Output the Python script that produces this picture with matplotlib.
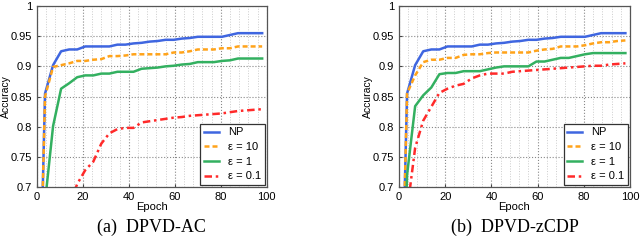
import matplotlib
matplotlib.use("Agg")
import matplotlib.pyplot as plt
from matplotlib.ticker import MultipleLocator, FuncFormatter

epochs = [0, 3.5, 7, 10.5, 14, 17.5, 21, 24.5, 28, 31.5, 35, 38.5, 42, 45.5, 49,
          52.5, 56, 59.5, 63, 66.5, 70, 73.5, 77, 80.5, 84, 87.5, 91, 94.5, 98]

np_a = [0.30, 0.855, 0.902, 0.925, 0.928, 0.928, 0.933, 0.933, 0.933, 0.933, 0.936, 0.936,
        0.938, 0.939, 0.941, 0.942, 0.944, 0.944, 0.946, 0.947, 0.949, 0.949, 0.949, 0.949,
        0.952, 0.955, 0.955, 0.955, 0.955]
e10_a = [0.30, 0.85, 0.899, 0.902, 0.905, 0.909, 0.909, 0.911, 0.912, 0.917, 0.917, 0.918,
         0.920, 0.920, 0.920, 0.920, 0.920, 0.923, 0.923, 0.925, 0.928, 0.928, 0.928, 0.930,
         0.930, 0.933, 0.933, 0.933, 0.933]
e1_a = [0.30, 0.675, 0.801, 0.863, 0.872, 0.882, 0.885, 0.885, 0.888, 0.888, 0.891, 0.891,
        0.891, 0.896, 0.897, 0.898, 0.900, 0.901, 0.903, 0.904, 0.907, 0.907, 0.907, 0.909,
        0.910, 0.913, 0.913, 0.913, 0.913]
e01_a = [0.30, 0.45, 0.55, 0.62, 0.67, 0.705, 0.728, 0.742, 0.772, 0.789, 0.796, 0.798,
         0.798, 0.807, 0.809, 0.811, 0.813, 0.815, 0.816, 0.818, 0.819, 0.820, 0.821, 0.822,
         0.824, 0.826, 0.827, 0.828, 0.829]

np_b = [0.30, 0.855, 0.902, 0.925, 0.928, 0.928, 0.933, 0.933, 0.933, 0.933, 0.936, 0.936,
        0.938, 0.939, 0.941, 0.942, 0.944, 0.944, 0.946, 0.947, 0.949, 0.949, 0.949, 0.949,
        0.952, 0.955, 0.955, 0.955, 0.955]
e10_b = [0.30, 0.855, 0.885, 0.907, 0.911, 0.911, 0.914, 0.914, 0.919, 0.920, 0.920, 0.922,
         0.923, 0.923, 0.923, 0.923, 0.923, 0.926, 0.928, 0.929, 0.933, 0.933, 0.933, 0.935,
         0.938, 0.940, 0.940, 0.942, 0.943]
e1_b = [0.30, 0.72, 0.834, 0.852, 0.865, 0.887, 0.889, 0.889, 0.892, 0.892, 0.892, 0.895,
        0.898, 0.900, 0.900, 0.900, 0.900, 0.908, 0.908, 0.911, 0.914, 0.914, 0.917, 0.920,
        0.922, 0.922, 0.922, 0.922, 0.922]
e01_b = [0.30, 0.66, 0.765, 0.810, 0.833, 0.856, 0.863, 0.868, 0.871, 0.880, 0.885, 0.888,
         0.888, 0.888, 0.891, 0.892, 0.893, 0.894, 0.895, 0.896, 0.897, 0.898, 0.899, 0.900,
         0.901, 0.901, 0.903, 0.904, 0.905]

labels = ["NP", "ε = 10", "ε = 1", "ε = 0.1"]
captions = ["(a)  DPVD-AC", "(b)  DPVD-zCDP"]
colors = ["#3f66e0", "#ffa31a", "#33b060", "#ff2a2a"]
styles = ["-", (0, (2, 1.2)), "-", (0, (3, 1.5, 1, 1.5))]

plt.rcParams['font.family'] = ['Liberation Sans', 'DejaVu Sans']

fig = plt.figure(figsize=(6.4, 2.41), dpi=100)
positions = [[0.0578, 0.224, 0.359, 0.751], [0.6234, 0.224, 0.361, 0.751]]
data = [[np_a, e10_a, e1_a, e01_a], [np_b, e10_b, e1_b, e01_b]]

for pos, series, cap in zip(positions, data, captions):
    ax = fig.add_axes(pos)
    for vals, lab, c, ls in zip(series, labels, colors, styles):
        ax.plot(epochs, vals, color=c, linestyle=ls, linewidth=1.8, label=lab)
    ax.set_xlim(0, 100)
    ax.set_ylim(0.7, 1.0)
    ax.xaxis.set_major_locator(MultipleLocator(20))
    ax.xaxis.set_minor_locator(MultipleLocator(4))
    ax.yaxis.set_major_locator(MultipleLocator(0.05))
    ax.yaxis.set_major_formatter(FuncFormatter(lambda v, p: "%g" % round(v, 2)))
    ax.grid(which='major', color='#888888', linestyle=':', linewidth=0.8)
    ax.grid(which='minor', axis='x', color='#cccccc', linestyle=':', linewidth=0.7)
    ax.tick_params(which='both', direction='in', labelsize=8, length=2.5, color='#444444')
    ax.tick_params(which='minor', length=0)
    for s in ax.spines.values():
        s.set_color('#555555')
        s.set_linewidth(0.9)
    ax.set_xlabel("Epoch", fontsize=8, labelpad=0)
    ax.set_ylabel("Accuracy", fontsize=7.5, va='center')
    ax.yaxis.set_label_coords(-0.135, 0.5)
    leg = ax.legend(loc='lower right', fontsize=8, frameon=True, fancybox=False,
                    borderaxespad=0.15, handlelength=1.35, handletextpad=0.8,
                    labelspacing=0.42, borderpad=0.35)
    leg.get_frame().set_edgecolor('#333333')
    leg.get_frame().set_linewidth(0.9)
    leg.get_frame().set_alpha(1)
    fig.text(pos[0] + pos[2] / 2, 0.057, cap, ha='center', va='center',
             fontsize=13, family='Liberation Serif')

fig.savefig("out.png", dpi=100)
